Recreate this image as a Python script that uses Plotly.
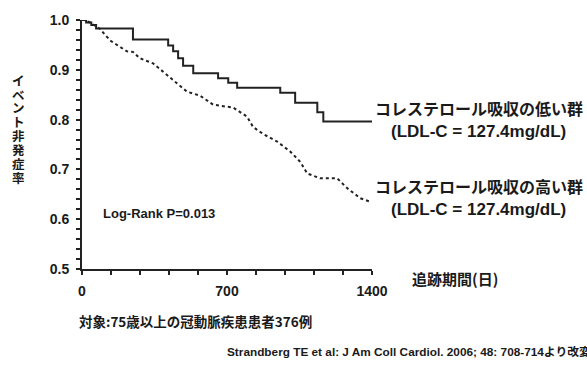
import plotly.graph_objects as go

# Data (days, event-free rate)
low_days = [0, 20, 45, 68, 246, 416, 440, 464, 488, 537, 657, 706, 749, 957, 1029, 1136, 1165, 1400]
low_vals = [1.0, 0.995, 0.99, 0.983, 0.961, 0.949, 0.937, 0.923, 0.908, 0.893, 0.883, 0.874, 0.864, 0.854, 0.834, 0.815, 0.796, 0.796]

high_days = [0, 10, 39, 87, 135, 184, 217, 246, 280, 343, 411, 474, 507, 570, 633, 730, 797, 826, 875,
             942, 1005, 1054, 1087, 1150, 1232, 1281, 1344, 1392]
high_vals = [1.0, 1.0, 0.995, 0.982, 0.959, 0.946, 0.937, 0.936, 0.923, 0.913, 0.890, 0.868, 0.856, 0.848,
             0.830, 0.824, 0.806, 0.785, 0.771, 0.756, 0.736, 0.715, 0.692, 0.682, 0.682, 0.662, 0.642, 0.635]

x_ticks = [0, 700, 1400]
y_ticks = [0.5, 0.6, 0.7, 0.8, 0.9, 1.0]
y_tick_text = ["0.5", "0.6", "0.7", "0.8", "0.9", "1.0"]
y_title = "イベント非発症率"

FONT = "Liberation Sans, Arial, Noto Sans CJK JP, sans-serif"
JFONT = "Noto Sans CJK JP, Liberation Sans, sans-serif"
DARK = "#1a1a1a"
W, H = 587, 367

fig = go.Figure()
fig.add_trace(go.Scatter(x=low_days, y=low_vals, mode="lines", line_shape="hv",
                         line=dict(color="#222222", width=2), showlegend=False))
fig.add_trace(go.Scatter(x=high_days, y=high_vals, mode="lines",
                         line=dict(color="#222222", width=2, dash="dot"), showlegend=False))

fig.update_layout(
    width=W, height=H,
    margin=dict(l=82, r=215, t=16, b=98),
    paper_bgcolor="white", plot_bgcolor="white",
    font=dict(family=FONT, color=DARK),
)
fig.update_xaxes(range=[0, 1400], showgrid=False, zeroline=False,
                 showline=True, linecolor="#222222", linewidth=2,
                 tickmode="array", tickvals=x_ticks, ticktext=[str(v) for v in x_ticks],
                 ticks="outside", ticklen=4, tickwidth=1.5, tickcolor="#222222",
                 ticklabelstandoff=4,
                 minor=dict(dtick=140, tick0=0, ticks="outside", ticklen=4, tickwidth=1.5, tickcolor="#222222"),
                 tickfont=dict(size=14, family=FONT, color=DARK, weight="bold"))
fig.update_yaxes(range=[0.5, 1.0], showgrid=False, zeroline=False,
                 showline=True, linecolor="#222222", linewidth=2,
                 tickmode="array", tickvals=y_ticks, ticktext=y_tick_text,
                 ticks="outside", ticklen=4, tickwidth=1.5, tickcolor="#222222",
                 ticklabelstandoff=4,
                 minor=dict(dtick=0.02, tick0=0.5, ticks="outside", ticklen=4, tickwidth=1.5, tickcolor="#222222"),
                 tickfont=dict(size=14, family=FONT, color=DARK, weight="bold"))

# vertical Y title, one character per annotation (stacked upright)
top_px, step_px = 77, 14.2
for i, ch in enumerate(y_title):
    ypx = top_px + i * step_px
    fig.add_annotation(text=ch, xref="paper", yref="paper",
                       x=(18 - 82) / (W - 82 - 215), y=1 - (ypx - 16) / (H - 16 - 98),
                       xanchor="center", yanchor="middle", showarrow=False, borderpad=0,
                       font=dict(size=12.5, family=JFONT, color=DARK, weight="bold"))

fig.add_annotation(text="Log-Rank P=0.013", xref="x", yref="y", x=90, y=0.612,
                   xanchor="left", showarrow=False,
                   font=dict(size=13, family=FONT, color=DARK, weight="bold"))
fig.add_annotation(text="コレステロール吸収の低い群", xref="paper", yref="y", x=1.005, y=0.824,
                   xanchor="left", showarrow=False,
                   font=dict(size=16, family=JFONT, color=DARK, weight="bold"))
fig.add_annotation(text="(LDL-C = 127.4mg/dL)", xref="paper", yref="y", x=1.06, y=0.776,
                   xanchor="left", showarrow=False,
                   font=dict(size=17, family=FONT, color=DARK, weight="bold"))
fig.add_annotation(text="コレステロール吸収の高い群", xref="paper", yref="y", x=1.005, y=0.667,
                   xanchor="left", showarrow=False,
                   font=dict(size=16, family=JFONT, color=DARK, weight="bold"))
fig.add_annotation(text="(LDL-C = 127.4mg/dL)", xref="paper", yref="y", x=1.06, y=0.619,
                   xanchor="left", showarrow=False,
                   font=dict(size=17, family=FONT, color=DARK, weight="bold"))
fig.add_annotation(text="追跡期間(日)", xref="paper", yref="paper", x=(410 - 82) / (W - 297), y=-0.04,
                   xanchor="left", yanchor="middle", showarrow=False,
                   font=dict(size=15, family=JFONT, color=DARK, weight="bold"))
fig.add_annotation(text="対象:75歳以上の冠動脈疾患患者376例", xref="paper", yref="paper", x=(77 - 82) / (W - 297),
                   y=-0.21, xanchor="left", yanchor="middle", showarrow=False,
                   font=dict(size=13.5, family=JFONT, color=DARK, weight="bold"))
fig.add_annotation(text="Strandberg TE et al: J Am Coll Cardiol. 2006; 48: 708-714より改変",
                   xref="paper", yref="paper", x=(225 - 82) / (W - 297), y=-0.335,
                   xanchor="left", yanchor="middle", showarrow=False,
                   font=dict(size=11.8, family=FONT, color=DARK, weight="bold"))

fig.write_html("out.html")
